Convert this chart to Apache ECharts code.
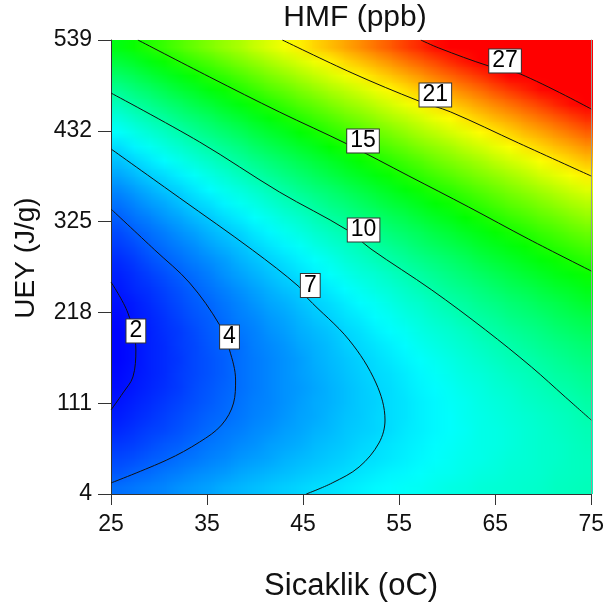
<!DOCTYPE html>
<html><head><meta charset="utf-8">
<script src="https://cdn.jsdelivr.net/npm/echarts@6/dist/echarts.min.js"></script>
<style>
html,body{margin:0;padding:0;background:#fff}
#wrap{position:relative;width:607px;height:608px;overflow:hidden}
#field{position:absolute;left:111px;top:40px;width:32px;height:32px;transform-origin:0 0;transform:scale(15.0625,14.1875)}
#c{position:absolute;left:0;top:0;width:607px;height:608px}
</style>
</head><body><div id="wrap"><div id="field"></div><div id="c"></div></div>
<script>
// Temperature (oC) cell centres and energy (J/g) cell centres of the colour field
const tempCenters = [25.78,27.34,28.91,30.47,32.03,33.59,35.16,36.72,38.28,39.84,41.41,42.97,44.53,46.09,47.66,49.22,50.78,52.34,53.91,55.47,57.03,58.59,60.16,61.72,63.28,64.84,66.41,67.97,69.53,71.09,72.66,74.22];
const energyCenters = [12.36,29.08,45.80,62.52,79.23,95.95,112.67,129.39,146.11,162.83,179.55,196.27,212.98,229.70,246.42,263.14,279.86,296.58,313.30,330.02,346.73,363.45,380.17,396.89,413.61,430.33,447.05,463.77,480.48,497.20,513.92,530.64];
// HMF (ppb); rows = energy (bottom to top), columns = temperature
const hmfGrid = [
[4.3,4.5,4.7,4.9,5.2,5.4,5.6,5.9,6.1,6.3,6.5,6.7,6.9,7.1,7.2,7.4,7.6,7.8,7.9,8.1,8.2,8.4,8.6,8.7,8.9,9.0,9.1,9.2,9.3,9.5,9.6,9.7],
[3.7,4.0,4.2,4.5,4.7,5.0,5.2,5.4,5.7,5.9,6.1,6.3,6.5,6.7,6.9,7.1,7.3,7.5,7.7,7.8,8.0,8.2,8.3,8.5,8.7,8.8,9.0,9.1,9.2,9.4,9.5,9.6],
[3.3,3.5,3.8,4.0,4.3,4.5,4.8,5.0,5.3,5.5,5.7,6.0,6.2,6.4,6.6,6.8,7.1,7.2,7.4,7.6,7.8,8.0,8.2,8.4,8.5,8.7,8.9,9.0,9.2,9.3,9.5,9.6],
[2.9,3.1,3.4,3.7,3.9,4.2,4.5,4.7,5.0,5.2,5.5,5.7,5.9,6.2,6.4,6.6,6.9,7.1,7.3,7.5,7.7,7.9,8.1,8.3,8.5,8.6,8.8,9.0,9.2,9.3,9.5,9.7],
[2.5,2.8,3.1,3.3,3.6,3.9,4.2,4.5,4.7,5.0,5.2,5.5,5.7,6.0,6.2,6.5,6.7,6.9,7.1,7.4,7.6,7.8,8.0,8.2,8.5,8.6,8.8,9.0,9.2,9.4,9.6,9.8],
[2.2,2.5,2.8,3.1,3.4,3.7,4.0,4.2,4.5,4.8,5.0,5.3,5.6,5.8,6.1,6.4,6.6,6.9,7.1,7.3,7.6,7.8,8.0,8.3,8.5,8.7,8.9,9.1,9.3,9.5,9.7,10.0],
[2.0,2.3,2.6,2.9,3.2,3.5,3.8,4.1,4.4,4.7,4.9,5.2,5.5,5.8,6.0,6.3,6.6,6.8,7.1,7.3,7.6,7.8,8.1,8.3,8.6,8.8,9.0,9.3,9.5,9.7,9.9,10.2],
[1.8,2.1,2.4,2.7,3.0,3.4,3.7,4.0,4.3,4.6,4.9,5.2,5.4,5.7,6.0,6.3,6.6,6.9,7.1,7.4,7.7,7.9,8.2,8.5,8.7,9.0,9.2,9.5,9.7,10.0,10.2,10.5],
[1.7,2.0,2.3,2.6,3.0,3.3,3.6,3.9,4.3,4.6,4.9,5.2,5.5,5.8,6.1,6.4,6.7,7.0,7.2,7.5,7.8,8.1,8.4,8.7,8.9,9.2,9.5,9.7,10.0,10.3,10.5,10.8],
[1.6,1.9,2.3,2.6,2.9,3.3,3.6,3.9,4.3,4.6,4.9,5.2,5.5,5.9,6.2,6.5,6.8,7.1,7.4,7.7,8.0,8.3,8.6,8.9,9.2,9.5,9.8,10.0,10.3,10.6,10.9,11.2],
[1.6,1.9,2.3,2.6,3.0,3.3,3.7,4.0,4.3,4.7,5.0,5.3,5.7,6.0,6.3,6.7,7.0,7.3,7.6,7.9,8.3,8.6,8.9,9.2,9.5,9.8,10.1,10.4,10.7,11.0,11.3,11.6],
[1.6,2.0,2.3,2.7,3.0,3.4,3.8,4.1,4.5,4.8,5.2,5.5,5.9,6.2,6.5,6.9,7.2,7.6,7.9,8.2,8.6,8.9,9.2,9.5,9.9,10.2,10.5,10.8,11.1,11.5,11.8,12.1],
[1.7,2.1,2.4,2.8,3.2,3.6,3.9,4.3,4.7,5.0,5.4,5.7,6.1,6.5,6.8,7.2,7.5,7.9,8.2,8.6,8.9,9.3,9.6,10.0,10.3,10.6,11.0,11.3,11.6,12.0,12.3,12.6],
[1.9,2.2,2.6,3.0,3.4,3.8,4.1,4.5,4.9,5.3,5.7,6.0,6.4,6.8,7.1,7.5,7.9,8.2,8.6,9.0,9.3,9.7,10.1,10.4,10.8,11.1,11.5,11.8,12.2,12.5,12.9,13.3],
[2.1,2.5,2.8,3.2,3.6,4.0,4.4,4.8,5.2,5.6,6.0,6.4,6.7,7.1,7.5,7.9,8.3,8.7,9.0,9.4,9.8,10.2,10.6,10.9,11.3,11.7,12.1,12.4,12.8,13.2,13.5,13.9],
[2.3,2.7,3.1,3.5,3.9,4.3,4.7,5.2,5.6,6.0,6.4,6.8,7.2,7.6,8.0,8.4,8.8,9.1,9.5,9.9,10.3,10.7,11.1,11.5,11.9,12.3,12.7,13.1,13.5,13.9,14.2,14.6],
[2.6,3.0,3.5,3.9,4.3,4.7,5.1,5.5,6.0,6.4,6.8,7.2,7.6,8.0,8.4,8.9,9.3,9.7,10.1,10.5,10.9,11.3,11.7,12.1,12.6,13.0,13.4,13.8,14.2,14.6,15.0,15.4],
[3.0,3.4,3.9,4.3,4.7,5.1,5.6,6.0,6.4,6.9,7.3,7.7,8.1,8.6,9.0,9.4,9.8,10.3,10.7,11.1,11.6,12.0,12.4,12.8,13.3,13.7,14.1,14.5,15.0,15.4,15.8,16.2],
[3.4,3.9,4.3,4.7,5.2,5.6,6.1,6.5,6.9,7.4,7.8,8.3,8.7,9.2,9.6,10.0,10.5,10.9,11.4,11.8,12.2,12.7,13.1,13.6,14.0,14.5,14.9,15.3,15.8,16.2,16.7,17.1],
[3.9,4.4,4.8,5.3,5.7,6.2,6.6,7.1,7.5,8.0,8.4,8.9,9.3,9.8,10.3,10.7,11.2,11.6,12.1,12.5,13.0,13.5,13.9,14.4,14.8,15.3,15.8,16.2,16.7,17.1,17.6,18.1],
[4.4,4.9,5.4,5.8,6.3,6.8,7.2,7.7,8.2,8.6,9.1,9.6,10.0,10.5,11.0,11.4,11.9,12.4,12.9,13.3,13.8,14.3,14.7,15.2,15.7,16.2,16.7,17.1,17.6,18.1,18.6,19.0],
[5.0,5.5,6.0,6.5,6.9,7.4,7.9,8.4,8.8,9.3,9.8,10.3,10.8,11.3,11.7,12.2,12.7,13.2,13.7,14.2,14.7,15.2,15.6,16.1,16.6,17.1,17.6,18.1,18.6,19.1,19.6,20.1],
[5.7,6.2,6.7,7.1,7.6,8.1,8.6,9.1,9.6,10.1,10.6,11.1,11.6,12.1,12.6,13.1,13.6,14.1,14.6,15.1,15.6,16.1,16.6,17.1,17.6,18.1,18.6,19.1,19.7,20.2,20.7,21.2],
[6.4,6.9,7.4,7.9,8.4,8.9,9.4,9.9,10.4,10.9,11.4,11.9,12.4,12.9,13.4,13.9,14.5,15.0,15.5,16.0,16.5,17.1,17.6,18.1,18.6,19.2,19.7,20.2,20.8,21.3,21.8,22.4],
[7.1,7.7,8.2,8.7,9.2,9.7,10.2,10.7,11.2,11.8,12.3,12.8,13.3,13.8,14.4,14.9,15.4,16.0,16.5,17.0,17.6,18.1,18.6,19.2,19.7,20.3,20.8,21.4,21.9,22.5,23.0,23.6],
[8.0,8.5,9.0,9.5,10.0,10.6,11.1,11.6,12.1,12.7,13.2,13.7,14.3,14.8,15.4,15.9,16.4,17.0,17.5,18.1,18.7,19.2,19.8,20.3,20.9,21.4,22.0,22.6,23.1,23.7,24.3,24.9],
[8.8,9.4,9.9,10.4,11.0,11.5,12.0,12.6,13.1,13.7,14.2,14.8,15.3,15.9,16.4,17.0,17.5,18.1,18.7,19.2,19.8,20.4,20.9,21.5,22.1,22.7,23.2,23.8,24.4,25.0,25.6,26.2],
[9.7,10.3,10.8,11.4,11.9,12.5,13.0,13.6,14.1,14.7,15.2,15.8,16.4,16.9,17.5,18.1,18.6,19.2,19.8,20.4,21.0,21.6,22.2,22.7,23.3,23.9,24.5,25.1,25.7,26.4,27.0,27.6],
[10.7,11.3,11.8,12.4,13.0,13.5,14.1,14.6,15.2,15.8,16.4,16.9,17.5,18.1,18.7,19.2,19.8,20.4,21.0,21.6,22.2,22.8,23.4,24.0,24.6,25.3,25.9,26.5,27.1,27.8,28.4,29.0],
[11.8,12.3,12.9,13.5,14.0,14.6,15.2,15.7,16.3,16.9,17.5,18.1,18.7,19.3,19.9,20.5,21.1,21.7,22.3,22.9,23.5,24.2,24.8,25.4,26.0,26.7,27.3,27.9,28.6,29.2,29.9,30.5],
[12.9,13.4,14.0,14.6,15.2,15.8,16.3,16.9,17.5,18.1,18.7,19.3,19.9,20.5,21.1,21.8,22.4,23.0,23.6,24.3,24.9,25.5,26.2,26.8,27.4,28.1,28.8,29.4,30.1,30.7,31.4,32.0],
[14.0,14.6,15.2,15.8,16.4,17.0,17.6,18.2,18.7,19.4,20.0,20.6,21.2,21.9,22.5,23.1,23.7,24.4,25.0,25.7,26.3,27.0,27.6,28.3,28.9,29.6,30.3,30.9,31.6,32.3,33.0,33.6]
];
// Contour lines: [temperature, energy]
const contour2 = [[25,253.8],[26.76,217.3],[27.59,173.7],[27.28,141.9],[26.24,123.0],[25,103.0]];
const contour4 = [[25,339.8],[29.56,291.5],[33.20,252.6],[36.31,203.2],[37.34,173.7],[37.97,138.3],[37.76,111.2],[36.51,85.3],[34.23,65.3],[30.81,44.1],[25,17.0]];
const contour7 = [[25,410.6],[32.16,352.8],[39.73,291.5],[44.61,247.9],[45.44,235.0],[49.79,185.5],[52.59,134.8],[53.53,91.2],[52.90,64.1],[50.83,35.8],[48.03,17.0],[45.33,4]];
const contour10 = [[25,476.5],[34.23,418.8],[42.53,359.9],[49.59,315.1],[52.07,292.7],[58.40,244.4],[64.00,197.3],[68.78,153.7],[72.30,118.3],[75,91.2]];
const contour15 = [[27.80,539],[35.27,495.4],[42.53,454.2],[49.59,416.4],[56.02,378.7],[62.24,342.2],[68.46,304.5],[75,266.8]];
const contour21 = [[42.84,539],[50.10,500.1],[57.05,467.1],[60.37,454.2],[67.43,417.6],[75,378.7]];
const contour27 = [[57.26,539],[59.13,529.6],[64.32,508.4],[67.63,498.9],[75,457.7]];
const contourLevels = ['2','4','7','10','15','21','27'];
const labelTemps = [27.59,37.34,45.75,51.30,51.24,58.77,66.03];
const labelEnergies = [196.1,189.0,249.7,315.1,420.0,474.2,514.3];

const FONT = 'Liberation Sans, Arial, sans-serif';
const T_MIN = 25, T_MAX = 75, E_MIN = 4, E_MAX = 539;
const cells = [];
energyCenters.forEach((e, i) => tempCenters.forEach((t, j) => cells.push([t, e, hmfGrid[i][j]])));
const halfT = (tempCenters[1] - tempCenters[0]) / 2;
const halfE = (energyCenters[1] - energyCenters[0]) / 2;

// Colour field: one device pixel per cell, drawn by ECharts; the browser scales the layer up smoothly.
const field = echarts.init(document.getElementById('field'), null, {renderer: 'canvas', width: 32, height: 32, devicePixelRatio: 1});
field.setOption({
  animation: false,
  grid: {left: 0, right: 0, top: 0, bottom: 0, containLabel: false},
  xAxis: {type: 'value', min: T_MIN, max: T_MAX, show: false},
  yAxis: {type: 'value', min: E_MIN, max: E_MAX, show: false},
  visualMap: {show: false, type: 'continuous', seriesIndex: 0, dimension: 2, min: 1.5, max: 33.75,
    inRange: {color: ['#0000ff', '#00ffff', '#00ff00', '#ffff00', '#ff0000', '#ff0000']}},
  series: [{type: 'custom', data: cells, encode: {x: 0, y: 1}, clip: true, silent: true,
    renderItem: function (params, api) {
      const t = api.value(0), e = api.value(1);
      const p0 = api.coord([t - halfT, e + halfE]);
      const p1 = api.coord([t + halfT, e - halfE]);
      const x0 = Math.round(p0[0]), y0 = Math.round(p0[1]);
      return {type: 'rect', shape: {x: x0, y: y0, width: Math.round(p1[0]) - x0, height: Math.round(p1[1]) - y0},
        style: {fill: api.visual('color')}};
    }}]
});

const lineStyle = {color: '#111', width: 1};
const contourSeries = [contour2, contour4, contour7, contour10, contour15, contour21, contour27].map(c => ({
  type: 'line', data: c, smooth: 0.35, symbol: 'none', silent: true, z: 3,
  lineStyle: lineStyle, clip: true
}));

const chart = echarts.init(document.getElementById('c'), null, {renderer: 'canvas'});
chart.setOption({
  animation: false,
  backgroundColor: 'transparent',
  grid: {left: 111, right: 14, top: 40, bottom: 114, containLabel: false},
  graphic: [{type: 'text', x: 355, y: 18, style: {text: 'HMF (ppb)', fontSize: 30, fontFamily: FONT, fill: '#111', align: 'center', verticalAlign: 'middle'}}],
  xAxis: {type: 'value', min: T_MIN, max: T_MAX, interval: 10,
    name: 'Sicaklik (oC)', nameLocation: 'middle', nameGap: 77,
    nameTextStyle: {fontSize: 31, fontFamily: FONT, color: '#111'},
    axisLine: {show: true, onZero: false, lineStyle: {color: '#333', width: 1}},
    axisTick: {show: true, length: 11, lineStyle: {color: '#333'}},
    axisLabel: {fontSize: 23, fontFamily: FONT, color: '#111', margin: 19},
    splitLine: {show: false}},
  yAxis: [{type: 'value', min: E_MIN, max: E_MAX, interval: 107,
    name: 'UEY (J/g)', nameLocation: 'middle', nameGap: 71, nameRotate: 90,
    nameTextStyle: {fontSize: 28, fontFamily: FONT, color: '#111', padding: [0, 0, 0, 18]},
    axisLine: {show: true, onZero: false, lineStyle: {color: '#333', width: 1}},
    axisTick: {show: true, length: 13, lineStyle: {color: '#333'}},
    axisLabel: {fontSize: 23, fontFamily: FONT, color: '#111', margin: 19},
    splitLine: {show: false}},
   {type: 'value', position: 'right', min: E_MIN, max: E_MAX,
    axisLine: {show: true, onZero: false, lineStyle: {color: '#999', width: 1}},
    axisTick: {show: false}, axisLabel: {show: false}, splitLine: {show: false}}],
  series: [
    ...contourSeries,
    {type: 'scatter', silent: true, z: 5, symbol: 'rect', symbolSize: 0, itemStyle: {color: 'rgba(0,0,0,0)'},
      data: contourLevels.map((lv, k) => ({name: lv, value: [labelTemps[k], labelEnergies[k]]})),
      label: {show: true, position: 'inside', formatter: '{b}', fontSize: 23, fontFamily: FONT, color: '#000', opacity: 1,
        backgroundColor: '#fff', borderColor: '#333', borderWidth: 1, padding: [1, 3, 0, 3], lineHeight: 22}}
  ]
});
</script></body></html>
